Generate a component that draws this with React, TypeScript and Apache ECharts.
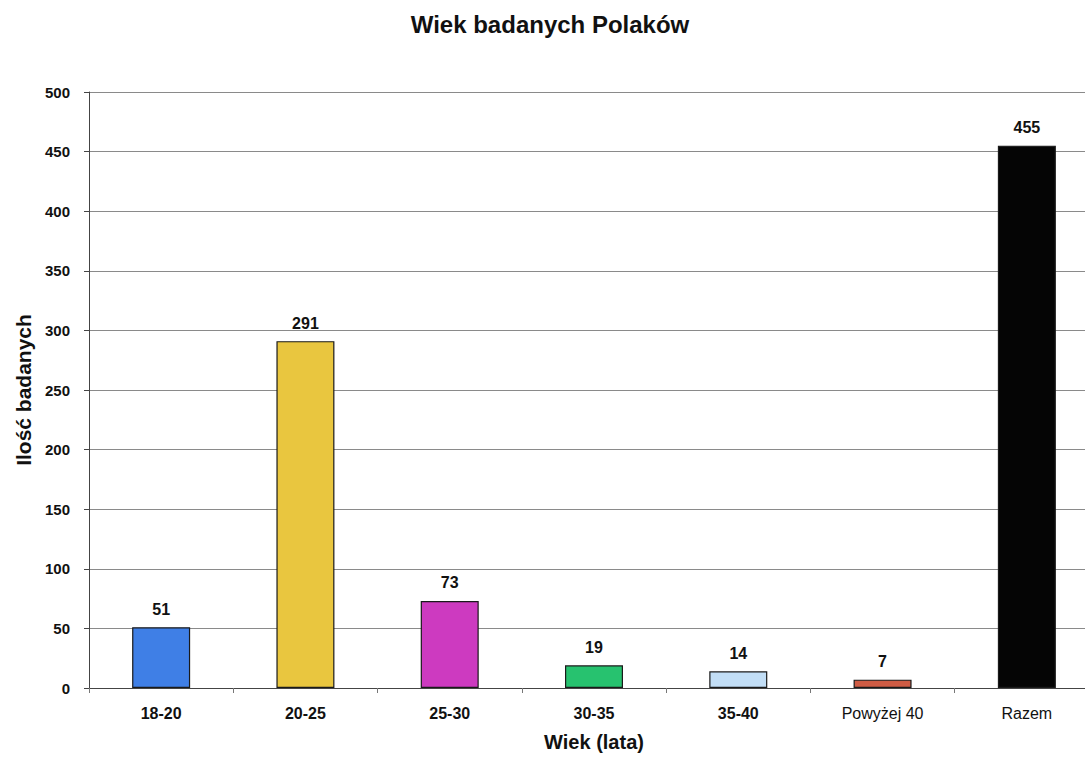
import React, { useEffect, useRef } from "react";
import * as echarts from "echarts";

const categories = ["18-20", "20-25", "25-30", "30-35", "35-40", "Powyżej 40", "Razem"];
const values = [51, 291, 73, 19, 14, 7, 455];
const barColors = ["#3f7fe6", "#e9c63f", "#cd3ac0", "#27c26f", "#c2def6", "#cf5c44", "#050505"];
const yTicks = { min: 0, max: 500, interval: 50 };

export default function App() {
  const ref = useRef<HTMLDivElement>(null);
  useEffect(() => {
    if (!ref.current) return;
    const chart = echarts.init(ref.current, null, { renderer: "svg" });
    const font = "'Liberation Sans', Arial, sans-serif";
    chart.setOption({
      animation: false,
      backgroundColor: "#ffffff",
      textStyle: { fontFamily: font },
      title: {
        text: "Wiek badanych Polaków",
        left: 545,
        textAlign: "center",
        top: 7,
        textStyle: { fontFamily: font, fontSize: 24, fontWeight: "bold", color: "#111" },
      },
      grid: { left: 89, top: 92, width: 1010, bottom: 66, containLabel: false },
      xAxis: {
        type: "category",
        data: categories.map((c, i) =>
          i >= 5 ? { value: c, textStyle: { fontWeight: "normal" } } : { value: c }
        ),
        name: "Wiek (lata)",
        nameLocation: "middle",
        nameGap: 44,
        nameTextStyle: { fontFamily: font, fontSize: 20, fontWeight: "bold", color: "#111" },
        axisLine: { lineStyle: { color: "#444", width: 1 } },
        axisTick: { show: true, alignWithLabel: false, length: 5, lineStyle: { color: "#777" } },
        axisLabel: { fontFamily: font, fontSize: 16, fontWeight: "bold", color: "#111", margin: 17 },
        splitLine: { show: false },
      },
      yAxis: {
        type: "value",
        min: yTicks.min,
        max: yTicks.max,
        interval: yTicks.interval,
        name: "Ilość badanych",
        nameLocation: "middle",
        nameGap: 45,
        nameRotate: 90,
        nameTextStyle: { fontFamily: font, fontSize: 21, fontWeight: "bold", color: "#111" },
        axisLine: { show: true, lineStyle: { color: "#444", width: 1 } },
        axisTick: { show: true, length: 5, lineStyle: { color: "#444" } },
        axisLabel: { fontFamily: font, fontSize: 15, fontWeight: "bold", color: "#111", margin: 19 },
        splitLine: { show: true, lineStyle: { color: "#8a8a8a", width: 1 } },
      },
      series: [
        {
          type: "bar",
          barWidth: 58,
          data: values.map((v, i) => ({
            value: v,
            itemStyle: { color: barColors[i], borderColor: "#1a1a1a", borderWidth: 1.2 },
          })),
          label: {
            show: true,
            position: "top",
            distance: 10,
            fontFamily: font,
            fontSize: 16,
            fontWeight: "bold",
            color: "#111",
          },
        },
      ],
    });
    return () => chart.dispose();
  }, []);
  return (
    <div style={{ width: 1085, height: 757, overflow: "hidden", position: "absolute", left: 0, top: 0 }}>
      <div ref={ref} style={{ width: 1110, height: 757 }} />
    </div>
  );
}
